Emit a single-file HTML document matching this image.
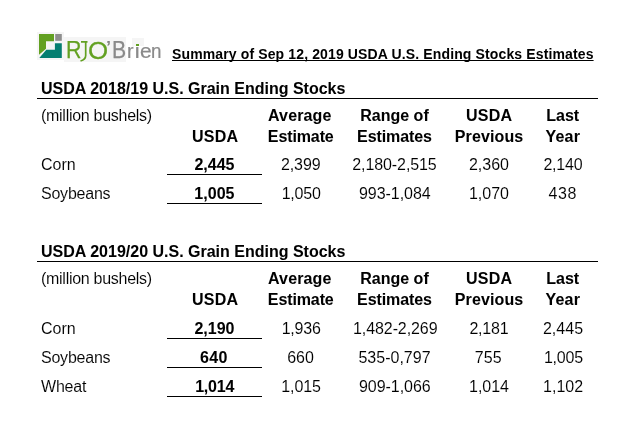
<!DOCTYPE html>
<html><head><meta charset="utf-8"><style>
html,body{margin:0;padding:0;background:#fff;}
body{width:636px;height:430px;position:relative;overflow:hidden;font-family:"Liberation Sans",sans-serif;color:#000;}
.t{position:absolute;white-space:nowrap;line-height:16px;font-size:16px;}
.r{font-weight:normal;-webkit-text-stroke:0.08px #fff;}
.b{font-weight:bold;-webkit-text-stroke:0.05px #000;}
.ln{position:absolute;background:#000;}
</style></head><body>
<div style="position:absolute;left:37px;top:32px;width:27px;height:28px;background:#f5f5f5"></div>
<div style="position:absolute;left:64px;top:37px;width:62px;height:25px;background:#f5f5f5"></div>
<div style="position:absolute;left:132px;top:38px;width:12px;height:8px;background:#f5f5f5"></div>
<svg style="position:absolute;left:36px;top:31px" width="30" height="30" viewBox="36 31 30 30">
<path d="M39 34 H54 V41.3 H46 V48.8 L39 54.7 Z" fill="#62a021"/>
<rect x="55.2" y="34" width="6.6" height="6.8" fill="#8e8e8e"/>
<path d="M54.9 43.2 H61.8 V57.9 H39.3 L46.3 49.8 H54.9 Z" fill="#047e70"/>
</svg>
<svg style="position:absolute;left:78px;top:38px" width="12" height="26" viewBox="78 38 12 26">
<path d="M81 41.8 H87.5 M85.7 41.8 V55.5 Q85.7 59.5 80.5 61" fill="none" stroke="#62a021" stroke-width="1.7"/>
</svg>
<div style="position:absolute;left:0;top:0;width:170px;height:66px;font-size:23px;line-height:23px;white-space:nowrap;will-change:transform">
<span style="position:absolute;left:66.14px;top:39.00px;color:#62a021;-webkit-text-stroke:0.25px #62a021;transform-origin:0 0;transform:scale(0.929,1.000)">R</span>
<span style="position:absolute;left:87.88px;top:38.88px;color:#62a021;-webkit-text-stroke:0.25px #62a021;transform-origin:0 0;transform:scale(1.125,1.059)">O</span>
<span style="position:absolute;left:106.00px;top:39.40px;color:#808080;-webkit-text-stroke:0.25px #808080;transform-origin:0 0;transform:scale(1.000,0.800)">’</span>
<span style="position:absolute;left:112.15px;top:39.00px;color:#8a8a8a;-webkit-text-stroke:0.25px #8a8a8a;transform-origin:0 0;transform:scale(0.923,1.000)">B</span>
<span style="position:absolute;left:127.14px;top:41.92px;color:#8a8a8a;-webkit-text-stroke:0.25px #8a8a8a;transform-origin:0 0;transform:scale(0.857,0.846)">r</span>
<span style="position:absolute;left:134.00px;top:41.92px;color:#8a8a8a;-webkit-text-stroke:0.25px #8a8a8a;transform-origin:0 0;transform:scale(1.000,0.846)">ı</span>
<span style="position:absolute;left:140.09px;top:41.92px;color:#8a8a8a;-webkit-text-stroke:0.25px #8a8a8a;transform-origin:0 0;transform:scale(0.909,0.846)">e</span>
<span style="position:absolute;left:151.18px;top:41.92px;color:#8a8a8a;-webkit-text-stroke:0.25px #8a8a8a;transform-origin:0 0;transform:scale(0.818,0.846)">n</span>
</div>
<div style="position:absolute;left:135.8px;top:44px;width:3px;height:2px;background:#62a021"></div>
<div style="position:absolute;left:172px;top:47px;font-size:14px;line-height:14px;font-weight:bold;letter-spacing:0.13px;text-decoration:underline;text-decoration-skip-ink:none;white-space:nowrap">Summary of Sep 12, 2019 USDA U.S. Ending Stocks Estimates</div>

<div style="position:absolute;left:0;top:0;width:636px;height:430px;filter:grayscale(1)">
<div id="e0" class="t b" style="top:81px;left:41.00px;">USDA 2018/19 U.S. Grain Ending Stocks</div>
<div id="e1" class="t r" style="top:108px;left:41.00px;letter-spacing:-0.281px;">(million bushels)</div>
<div id="e2" class="t b" style="top:108px;left:239.70px;width:120px;text-align:center;text-indent:0.133px;letter-spacing:0.133px;">Average</div>
<div id="e3" class="t b" style="top:108px;left:334.50px;width:120px;text-align:center;">Range of</div>
<div id="e4" class="t b" style="top:108px;left:429.00px;width:120px;text-align:center;text-indent:0.267px;letter-spacing:0.267px;">USDA</div>
<div id="e5" class="t b" style="top:108px;left:502.70px;width:120px;text-align:center;">Last</div>
<div id="e6" class="t b" style="top:129px;left:155.00px;width:120px;text-align:center;text-indent:0.267px;letter-spacing:0.267px;">USDA</div>
<div id="e7" class="t b" style="top:129px;left:240.80px;width:120px;text-align:center;text-indent:-0.114px;letter-spacing:-0.114px;">Estimate</div>
<div id="e8" class="t b" style="top:129px;left:334.50px;width:120px;text-align:center;text-indent:-0.100px;letter-spacing:-0.100px;">Estimates</div>
<div id="e9" class="t b" style="top:129px;left:429.00px;width:120px;text-align:center;text-indent:0.114px;letter-spacing:0.114px;">Previous</div>
<div id="e10" class="t b" style="top:129px;left:502.70px;width:120px;text-align:center;text-indent:0.267px;letter-spacing:0.267px;">Year</div>
<div id="e11" class="t r" style="top:157px;left:41.00px;">Corn</div>
<div id="e12" class="t b" style="top:157px;left:154.50px;width:120px;text-align:center;">2,445</div>
<div id="e13" class="t r" style="top:157px;left:240.80px;width:120px;text-align:center;text-indent:-0.075px;letter-spacing:-0.075px;">2,399</div>
<div id="e14" class="t r" style="top:157px;left:334.50px;width:120px;text-align:center;text-indent:-0.090px;letter-spacing:-0.090px;">2,180-2,515</div>
<div id="e15" class="t r" style="top:157px;left:429.00px;width:120px;text-align:center;">2,360</div>
<div id="e16" class="t r" style="top:157px;left:503.00px;width:120px;text-align:center;text-indent:-0.200px;letter-spacing:-0.200px;">2,140</div>
<div id="e17" class="t r" style="top:186px;left:41.00px;letter-spacing:-0.229px;">Soybeans</div>
<div id="e18" class="t b" style="top:186px;left:154.40px;width:120px;text-align:center;text-indent:0.025px;letter-spacing:0.025px;">1,005</div>
<div id="e19" class="t r" style="top:186px;left:241.30px;width:120px;text-align:center;text-indent:-0.200px;letter-spacing:-0.200px;">1,050</div>
<div id="e20" class="t r" style="top:186px;left:334.80px;width:120px;text-align:center;text-indent:-0.038px;letter-spacing:-0.038px;">993-1,084</div>
<div id="e21" class="t r" style="top:186px;left:429.00px;width:120px;text-align:center;">1,070</div>
<div id="e22" class="t r" style="top:186px;left:502.40px;width:120px;text-align:center;text-indent:0.600px;letter-spacing:0.600px;">438</div>
<div id="e23" class="t b" style="top:244px;left:41.00px;">USDA 2019/20 U.S. Grain Ending Stocks</div>
<div id="e24" class="t r" style="top:271px;left:41.00px;letter-spacing:-0.281px;">(million bushels)</div>
<div id="e25" class="t b" style="top:271px;left:239.70px;width:120px;text-align:center;text-indent:0.133px;letter-spacing:0.133px;">Average</div>
<div id="e26" class="t b" style="top:271px;left:334.50px;width:120px;text-align:center;">Range of</div>
<div id="e27" class="t b" style="top:271px;left:429.00px;width:120px;text-align:center;text-indent:0.267px;letter-spacing:0.267px;">USDA</div>
<div id="e28" class="t b" style="top:271px;left:502.70px;width:120px;text-align:center;">Last</div>
<div id="e29" class="t b" style="top:292px;left:155.00px;width:120px;text-align:center;text-indent:0.267px;letter-spacing:0.267px;">USDA</div>
<div id="e30" class="t b" style="top:292px;left:240.80px;width:120px;text-align:center;text-indent:-0.114px;letter-spacing:-0.114px;">Estimate</div>
<div id="e31" class="t b" style="top:292px;left:334.50px;width:120px;text-align:center;text-indent:-0.100px;letter-spacing:-0.100px;">Estimates</div>
<div id="e32" class="t b" style="top:292px;left:429.00px;width:120px;text-align:center;text-indent:0.114px;letter-spacing:0.114px;">Previous</div>
<div id="e33" class="t b" style="top:292px;left:502.70px;width:120px;text-align:center;text-indent:0.267px;letter-spacing:0.267px;">Year</div>
<div id="e34" class="t r" style="top:321px;left:41.00px;">Corn</div>
<div id="e35" class="t b" style="top:321px;left:154.50px;width:120px;text-align:center;">2,190</div>
<div id="e36" class="t r" style="top:321px;left:241.30px;width:120px;text-align:center;text-indent:-0.200px;letter-spacing:-0.200px;">1,936</div>
<div id="e37" class="t r" style="top:321px;left:335.30px;width:120px;text-align:center;text-indent:-0.090px;letter-spacing:-0.090px;">1,482-2,269</div>
<div id="e38" class="t r" style="top:321px;left:429.00px;width:120px;text-align:center;text-indent:-0.225px;letter-spacing:-0.225px;">2,181</div>
<div id="e39" class="t r" style="top:321px;left:503.00px;width:120px;text-align:center;text-indent:0.025px;letter-spacing:0.025px;">2,445</div>
<div id="e40" class="t r" style="top:350px;left:41.00px;letter-spacing:-0.229px;">Soybeans</div>
<div id="e41" class="t b" style="top:350px;left:153.70px;width:120px;text-align:center;text-indent:0.400px;letter-spacing:0.400px;">640</div>
<div id="e42" class="t r" style="top:350px;left:240.50px;width:120px;text-align:center;">660</div>
<div id="e43" class="t r" style="top:350px;left:334.50px;width:120px;text-align:center;">535-0,797</div>
<div id="e44" class="t r" style="top:350px;left:428.20px;width:120px;text-align:center;">755</div>
<div id="e45" class="t r" style="top:350px;left:503.50px;width:120px;text-align:center;text-indent:-0.200px;letter-spacing:-0.200px;">1,005</div>
<div id="e46" class="t r" style="top:379px;left:41.00px;letter-spacing:-0.200px;">Wheat</div>
<div id="e47" class="t b" style="top:379px;left:154.80px;width:120px;text-align:center;text-indent:-0.200px;letter-spacing:-0.200px;">1,014</div>
<div id="e48" class="t r" style="top:379px;left:241.08px;width:120px;text-align:center;text-indent:-0.145px;letter-spacing:-0.145px;">1,015</div>
<div id="e49" class="t r" style="top:379px;left:334.80px;width:120px;text-align:center;text-indent:-0.038px;letter-spacing:-0.038px;">909-1,066</div>
<div id="e50" class="t r" style="top:379px;left:429.00px;width:120px;text-align:center;text-indent:-0.025px;letter-spacing:-0.025px;">1,014</div>
<div id="e51" class="t r" style="top:379px;left:503.10px;width:120px;text-align:center;">1,102</div>
<div class="ln" style="left:37px;top:98px;width:561px;height:1px"></div>
<div class="ln" style="left:167px;top:174px;width:95px;height:1px"></div>
<div class="ln" style="left:167px;top:203px;width:95px;height:1px"></div>
<div class="ln" style="left:37px;top:261px;width:561px;height:1px"></div>
<div class="ln" style="left:167px;top:338px;width:95px;height:1px"></div>
<div class="ln" style="left:167px;top:367px;width:95px;height:1px"></div>
<div class="ln" style="left:167px;top:396px;width:95px;height:1px"></div>
</div>
</body></html>
